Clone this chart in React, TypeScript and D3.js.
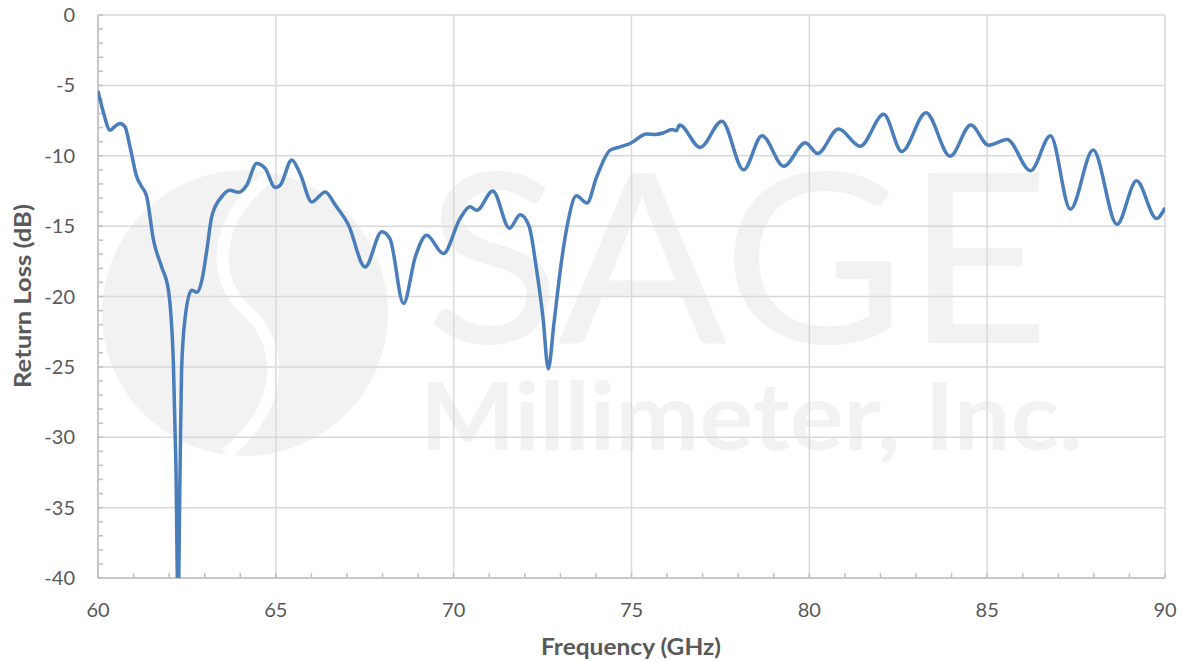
import * as d3 from "d3";

const freqGHz = [
  60.0, 60.15, 60.34, 60.48, 60.62, 60.76, 60.9, 61.09, 61.23, 61.37, 61.56, 61.79, 61.98,
  62.12, 62.19, 62.25, 62.31, 62.35, 62.45, 62.63, 62.78, 62.92, 63.06, 63.2, 63.48, 63.71,
  63.95, 64.18, 64.46, 64.7, 64.98, 65.12, 65.45, 65.68, 66.01, 66.39, 66.67, 67.04, 67.51,
  67.98, 68.21, 68.59, 68.92, 69.24, 69.71, 70.18, 70.46, 70.65, 71.1, 71.57, 71.87, 72.12,
  72.32, 72.51, 72.66, 72.82, 73.01, 73.19, 73.45, 73.75, 74.02, 74.4, 74.68, 74.96, 75.43,
  75.67, 75.9, 76.14, 76.26, 76.35, 76.93, 77.54, 78.15, 78.67, 79.28, 79.89, 80.23, 80.82,
  81.43, 82.09, 82.6, 83.28, 83.96, 84.54, 85.04, 85.56, 86.22, 86.78, 87.34, 87.98, 88.65,
  89.2, 89.76, 90.0,
];
const returnLossDb = [
  -5.4, -6.9, -8.18, -7.9, -7.7, -7.94, -9.37, -11.5, -12.2, -12.9, -16.0, -17.9, -19.56,
  -24.8, -31.9, -42, -31.9, -25.2, -21.5, -19.56, -19.7, -18.85, -16.7, -14.3, -12.9, -12.45,
  -12.6, -12.1, -10.55, -10.9, -12.25, -12.1, -10.3, -11.26, -13.28, -12.57, -13.5, -14.9, -17.9,
  -15.4, -15.9, -20.5, -17.2, -15.65, -16.95, -14.46, -13.63, -13.87, -12.5, -15.15, -14.2, -15.0,
  -17.9, -21.46, -25.13, -21.9, -17.9, -15.0, -12.85, -13.35, -11.5, -9.6, -9.37, -9.13, -8.46,
  -8.49, -8.37, -8.13, -8.22, -7.82, -9.41, -7.54, -11.0, -8.58, -10.74, -9.08, -9.84, -8.1,
  -9.32, -7.06, -9.7, -6.95, -10.03, -7.82, -9.25, -8.84, -11.07, -8.58, -13.8, -9.6, -14.87,
  -11.78, -14.46, -13.7,
];

const xTicks = [60, 65, 70, 75, 80, 85, 90];
const yTicks = [0, -5, -10, -15, -20, -25, -30, -35, -40];

const W = 1180;
const H = 662;
const margin = { top: 15, right: 15, bottom: 85, left: 98 };
const textColor = "#595959";
const font = "Lato, 'Open Sans', sans-serif";

export default function App() {
  const x = d3.scaleLinear().domain([60, 90]).range([margin.left, W - margin.right]);
  const y = d3.scaleLinear().domain([0, -40]).range([margin.top, H - margin.bottom + 1]);
  const [x0, x1] = x.range();
  const [y0, y1] = y.range();

  const points = freqGHz.map((f, i) => [f, returnLossDb[i]] as [number, number]);
  const line = d3
    .line<[number, number]>()
    .x((d) => x(d[0]))
    .y((d) => y(d[1]))
    .curve(d3.curveMonotoneX);

  const xMinor = d3.range(60, 91, 1);
  const yMinor = d3.range(0, -41, -1);

  return (
    <svg
      width={W}
      height={H}
      style={{ position: "absolute", left: 0, top: 0, background: "#fff" }}
      fontFamily={font}
    >
      <defs>
        <clipPath id="plot">
          <rect x={x0} y={y0} width={x1 - x0} height={y1 - y0} />
        </clipPath>
      </defs>

      {/* watermark */}
      <g fill="#f2f2f2">
        <circle cx={245} cy={313} r={143} />
        <path
          d="M270,176 C210,222 212,282 248,312 C282,342 288,404 226,454"
          fill="none"
          stroke="#fff"
          strokeWidth={12}
        />
        <text x={425} y={343} fontSize={236} fontWeight={400} textLength={625} lengthAdjust="spacingAndGlyphs">
          SAGE
        </text>
        <text x={420} y={450} fontSize={93} fontWeight={700} textLength={663} lengthAdjust="spacingAndGlyphs">
          Millimeter, Inc.
        </text>
      </g>

      {/* grid */}
      <g stroke="#d9d9d9" strokeWidth={1.5}>
        {yTicks.map((t) => (
          <line key={"gy" + t} x1={x0} x2={x1} y1={y(t)} y2={y(t)} />
        ))}
        {xTicks.map((t) => (
          <line key={"gx" + t} x1={x(t)} x2={x(t)} y1={y0} y2={y1} />
        ))}
      </g>

      {/* axes with minor ticks */}
      <g stroke="#bfbfbf" strokeWidth={1.5}>
        <line x1={x0} x2={x0} y1={y0} y2={y1} />
        <line x1={x0} x2={x1} y1={y1} y2={y1} />
        {yMinor.map((t) => (
          <line key={"my" + t} x1={x0} x2={x0 + 5} y1={y(t)} y2={y(t)} />
        ))}
        {xMinor.map((t) => (
          <line key={"mx" + t} x1={x(t)} x2={x(t)} y1={y1} y2={y1 - 5} />
        ))}
      </g>

      <path
        d={line(points) ?? ""}
        fill="none"
        stroke="#4a7ebb"
        strokeWidth={3.5}
        strokeLinejoin="round"
        clipPath="url(#plot)"
      />

      {/* tick labels */}
      <g fill={textColor} fontSize={20}>
        {yTicks.map((t) => (
          <text key={"ly" + t} x={75} y={y(t)} dy="0.35em" textAnchor="end">
            {String(t)}
          </text>
        ))}
        {xTicks.map((t) => (
          <text key={"lx" + t} x={x(t)} y={617} textAnchor="middle">
            {String(t)}
          </text>
        ))}
      </g>

      <text
        x={631}
        y={655}
        textAnchor="middle"
        fontSize={22}
        fontWeight={700}
        fill={textColor}
        textLength={180}
        lengthAdjust="spacingAndGlyphs"
      >
        Frequency (GHz)
      </text>
      <text
        transform={`translate(31, ${296}) rotate(-90)`}
        textAnchor="middle"
        fontSize={22}
        fontWeight={700}
        fill={textColor}
        textLength={184}
        lengthAdjust="spacingAndGlyphs"
      >
        Return Loss (dB)
      </text>
    </svg>
  );
}
